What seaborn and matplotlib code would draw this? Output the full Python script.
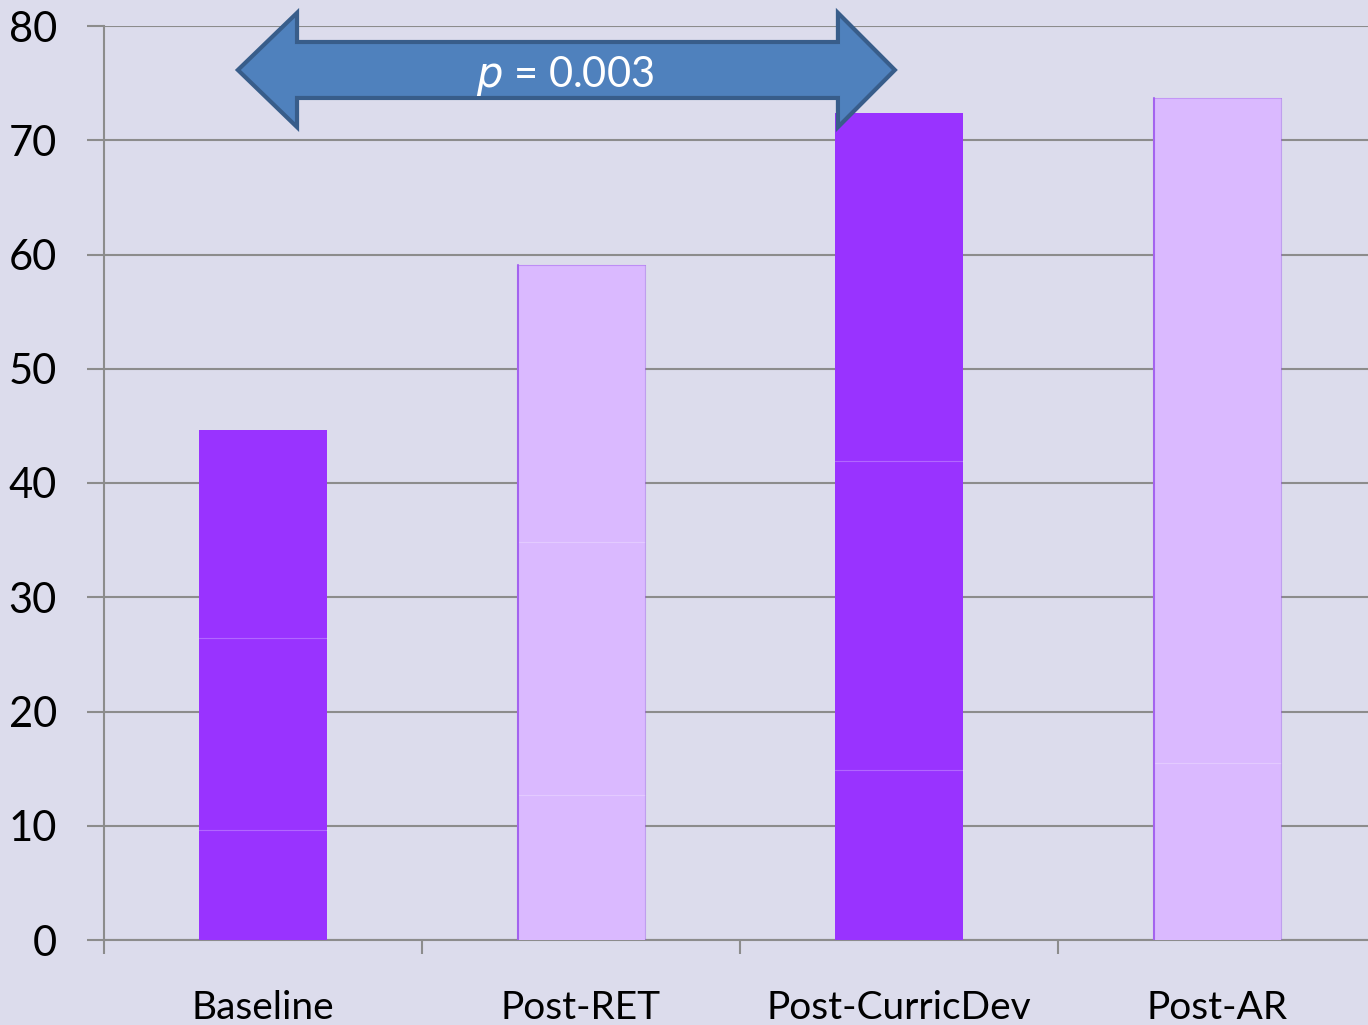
import matplotlib
matplotlib.use("Agg")
import matplotlib.pyplot as plt
import seaborn as sns
import pandas as pd
import numpy as np
from matplotlib.patches import Polygon

categories = ["Baseline", "Post-RET", "Post-CurricDev", "Post-AR"]
seg1 = [9.6, 12.7, 14.9, 15.5]
seg2 = [16.8, 22.1, 27.0, 58.2]
seg3 = [18.2, 24.3, 30.5, 0.0]
bar_colors = ["#9933ff", "#dab9ff", "#9933ff", "#dab9ff"]
edge_colors = ["#9933ff", "#a463ef", "#9933ff", "#a463ef"]
yticks = [0, 10, 20, 30, 40, 50, 60, 70, 80]
p_text = "$\\it{p}$ = 0.003"

bg = "#dcdcec"
sns.set_theme(style="white")
plt.rcParams["font.family"] = ["Lato", "DejaVu Sans"]

fig = plt.figure(figsize=(13.68, 10.25), dpi=100, facecolor=bg)
ax = fig.add_axes([104/1368, 85/1025, 1272/1368, 914/1025])
ax.set_facecolor(bg)

c1 = np.array(seg1)
c2 = c1 + np.array(seg2)
c3 = c2 + np.array(seg3)
pal = dict(zip(categories, bar_colors))
for i, cum in enumerate([c3, c2, c1]):
    df = pd.DataFrame({"cat": categories, "val": cum})
    sns.barplot(data=df, x="cat", y="val", hue="cat", palette=pal, order=categories,
                width=0.4, dodge=False, legend=False, ax=ax, linewidth=0, zorder=3,
                saturation=1)

# faint segment boundaries (top edges of inner segments)
for patch in ax.patches[4:]:
    x0 = patch.get_x(); w = patch.get_width(); h = patch.get_height()
    ax.plot([x0, x0 + w], [h, h], color="white", alpha=0.25, lw=0.8, zorder=4)
# outline of light bars
for j, patch in enumerate(ax.patches[:4]):
    if bar_colors[j] != "#9933ff":
        x0 = patch.get_x(); w = patch.get_width(); h = patch.get_height()
        ax.plot([x0 + 0.002, x0 + 0.002], [0, h], color=edge_colors[j], lw=1.5, zorder=5)
        ax.plot([x0, x0 + w], [h, h], color=edge_colors[j], lw=0.8, alpha=0.5, zorder=5)
        ax.plot([x0 + w, x0 + w], [0, h], color=edge_colors[j], lw=0.8, alpha=0.5, zorder=5)

ax.set_xlim(-0.5, 3.5)
ax.set_ylim(0, 80)
ax.set_yticks(yticks)
ax.set_yticklabels([str(v) for v in yticks], fontsize=30, color="black")
ax.set_xticks(range(4))
ax.set_xticklabels(categories, fontsize=28, color="black")
ax.set_xlabel(""); ax.set_ylabel("")
ax.set_xticks([-0.5, 0.5, 1.5, 2.5], minor=True)
ax.tick_params(axis="x", which="major", length=0, pad=36, bottom=True)
ax.tick_params(axis="x", which="minor", length=10, width=1.5, color="#8c8c8c",
               direction="out", bottom=True)
ax.tick_params(axis="y", which="major", length=12, width=1.5, color="#8c8c8c",
               pad=22, direction="out", left=True)
ax.grid(axis="y", color="#8c8c8c", lw=1.5, zorder=0)
ax.set_axisbelow(True)
for s in ["top", "right"]:
    ax.spines[s].set_visible(False)
for s in ["left", "bottom"]:
    ax.spines[s].set_color("#8c8c8c")
    ax.spines[s].set_linewidth(1.5)

# double-headed block arrow
yc = 76.15
sh = 2.45
hh = 5.0
xl, xlb = -0.079, 0.107
xr, xrb = 1.987, 1.808
pts = [(xl, yc), (xlb, yc + hh), (xlb, yc + sh), (xrb, yc + sh), (xrb, yc + hh),
       (xr, yc), (xrb, yc - hh), (xrb, yc - sh), (xlb, yc - sh), (xlb, yc - hh)]
arrow = Polygon(pts, closed=True, facecolor="#4f81bd", edgecolor="#385d8a",
                lw=3, clip_on=False, zorder=6, joinstyle="miter")
ax.add_patch(arrow)
ax.text(0.95, yc - 0.55, p_text, color="white", fontsize=30, ha="center", va="center", zorder=7)

fig.savefig("out.png", dpi=100, facecolor=bg)
